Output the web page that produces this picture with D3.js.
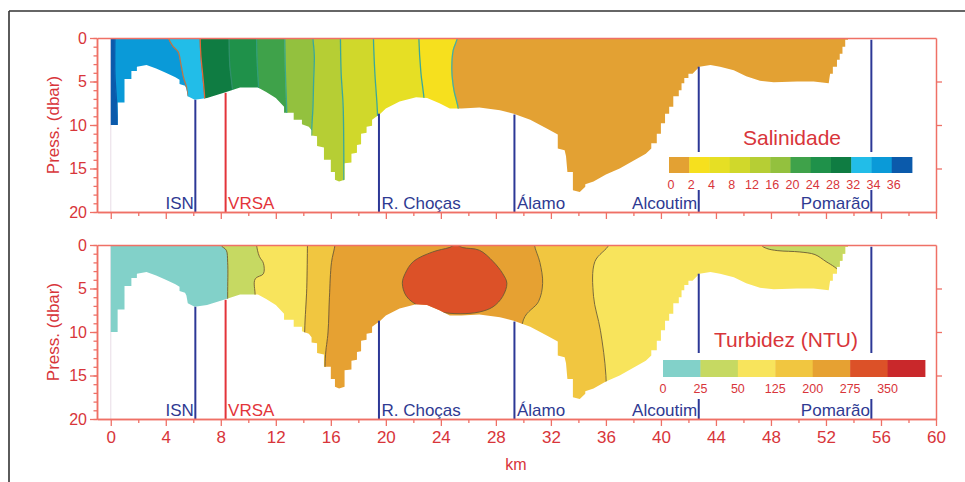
<!DOCTYPE html>
<html><head><meta charset="utf-8">
<script src="https://cdn.jsdelivr.net/npm/d3@7"></script>
<style>body{margin:0;background:#fff;} svg{display:block;font-family:"Liberation Sans",Arial,sans-serif;}</style>
</head><body><svg id="c" width="965" height="482"></svg>
<script>
// ---------- data ----------
const kmMajorTicks = d3.range(0, 61, 4);
const kmMinorTicks = d3.range(2, 60, 4);
const pressMajorTicks = [0, 5, 10, 15, 20];
const pressMinorTicks = d3.range(0, 21, 1);
const pressRightTicks = [5, 10, 15];

// river bed profile (km, dbar)
const bottomKm    = [0,0.5,0.5,1.0,1.0,1.5,1.5,1.9,1.9,2.6,3.3,4.0,4.7,5.0,5.0,5.4,5.5,5.6,6.1,7.0,8.4,9.4,10.7,11.3,12.0,12.6,12.6,13.3,13.3,13.9,13.9,14.4,14.6,14.6,15.0,15.0,15.5,15.5,16.0,16.0,16.3,16.3,16.6,17.0,17.0,17.5,17.5,17.9,17.9,18.2,18.2,18.6,18.6,19.0,19.0,19.6,20.0,21.0,22.2,23.0,23.9,24.65,25.5,26.8,28.3,29.3,30.5,31.7,32.5,32.5,33.0,33.1,33.2,33.6,33.6,34.1,34.5,34.5,35.1,36.0,37.0,37.9,38.9,39.3,39.3,39.7,39.7,40.0,40.0,40.3,40.3,40.6,40.6,40.9,40.9,41.3,41.3,41.5,41.5,41.7,41.7,42.0,42.0,42.3,42.8,43.6,44.3,45.3,46.2,47.2,48.2,49.9,51.1,52.2,52.3,52.5,52.5,52.8,52.8,53.0,53.0,53.2,53.2,53.4,53.4,53.6,53.6];
const bottomDepth = [10.0,10.0,7.4,7.4,4.7,4.7,3.8,3.8,3.3,3.1,3.5,4.0,4.5,4.8,5.3,5.5,5.8,6.7,7.1,6.9,6.2,5.7,5.7,6.2,6.9,7.9,8.6,8.6,9.4,9.4,9.9,10.2,10.6,11.2,11.3,12.4,12.6,14.0,14.0,15.4,15.4,16.3,16.5,16.3,14.4,14.3,13.3,13.2,12.3,12.2,11.0,10.9,10.2,10.1,9.4,8.7,8.1,7.3,6.8,6.9,7.5,8.1,8.1,8.0,8.3,8.7,9.4,10.4,11.1,12.7,12.9,13.6,15.4,15.4,17.5,17.7,17.1,16.8,16.5,15.7,15.0,14.2,13.3,12.7,12.1,12.1,11.0,11.0,9.8,9.8,8.7,8.7,7.9,7.9,6.7,6.7,6.0,6.0,5.2,5.2,4.6,4.6,4.1,4.1,3.3,3.1,3.3,3.7,4.4,4.9,5.1,5.0,5.0,5.2,4.1,4.1,3.3,3.3,2.5,2.5,1.8,1.8,1.0,1.0,0.2,0.2,0];

const stationNames = ["ISN", "VRSA", "R. Choças", "Álamo", "Alcoutim", "Pomarão"];
const stationKm    = [6.15, 8.35, 19.5, 29.35, 42.75, 55.3];
const stationTop   = [7.1, 6.3, 8.7, 8.8, 3.3, 0.2];

// salinity
const salLevels = ["0", "2", "4", "8", "12", "16", "20", "24", "28", "32", "34", "36"];
const salBandOrder = [11, 10, 9, 8, 7, 6, 5, 4, 3, 2, 1, 0]; // left to right
const salBoundaries = [
  [[0.3,0],[0.3,4],[0.45,8],[0.5,10]],
  [[4.2,0],[4.5,0.9],[4.9,1.6],[5.1,3],[5.3,4.6],[5.5,5.6],[5.6,7]],
  [[6.5,0],[6.55,2],[6.7,4.5],[6.85,7.5]],
  [[8.6,0],[8.65,3],[8.9,7]],
  [[10.6,0],[10.65,3],[10.75,6]],
  [[12.65,0],[12.7,4],[12.8,9]],
  [[14.7,0],[14.8,2],[14.75,5],[14.7,8],[14.6,11]],
  [[16.7,0],[16.75,4],[16.9,8],[16.95,16.5]],
  [[19.1,0],[19.2,4],[19.4,9]],
  [[22.4,0],[22.55,4],[22.8,7.5]],
  [[25.2,0],[24.9,1.4],[24.8,3.7],[24.95,6.0],[25.3,8.5]]
];
// turbidity
const turbLevels = ["0", "25", "50", "125", "200", "275", "350"];
const turbBandOrder = [0, 1, 2, 3, 4, 3, 2];
const turbBoundaries = [
  [[8.0,0],[8.4,0.6],[8.5,2],[8.5,6]],
  [[10.6,0],[10.8,1.3],[11.1,2.1],[11.1,3.3],[10.5,3.9],[10.5,6]],
  [[14.3,0],[14.25,5],[14.1,10]],
  [[16.3,0],[16.05,2],[15.9,6],[15.8,10],[15.6,13]],
  [[30.8,0],[31.2,2],[31.4,4.4],[31.1,6.5],[30.0,8.6]],
  [[36.2,0],[35.2,1.9],[35.1,5.9],[35.6,9.8],[36.0,15]]
];
const turbCoreLevel = 5;
const turbCore = [[21.4,3.3],[22.0,1.9],[23.4,0.8],[24.6,0.3],[25.1,0],[25.6,0.3],[26.8,0.6],[27.8,1.9],[28.5,3.3],[28.8,4.4],[28.5,5.9],[27.8,7.1],[26.8,7.7],[25.4,7.9],[23.9,7.7],[22.5,7.1],[21.5,5.9],[21.2,4.4]];
const turbUpperLevel = 1;
const turbUpper = [[47.2,-1.5],[47.3,0],[47.7,0.4],[48.5,0.65],[50.1,0.8],[51.2,1.1],[52.0,1.9],[52.6,2.5],[52.9,2.9],[53.3,3.5],[56,4],[56,-1.5]];

// ---------- styles ----------
const salColors = ["#e3a133","#f6e01e","#e6df24","#d0d82b","#b6ce34","#93c13e","#3fa24a","#1f914a","#0f7c42","#22bde8","#0a9ad8","#0b5aab"];
const salLineColors = ["#0b5aab","#b8764a","#e0683a","#2f8f6a","#2f9e7a","#3aa88a","#3aa89a","#3aa89a","#3aa89a","#3aa89a","#45b0a0"];
const turbColors = ["#82d1c9","#c6d962","#f8e45c","#f1c640","#e6a132","#dc5128","#c9282b"];
const AX = "#ef7066", TX = "#d8353a", BLUE = "#2c3896", RED = "#e3343a";

const svg = d3.select("#c");
const defs = svg.append("defs");
const X = d3.scaleLinear().domain([-1, 60]).range([97, 936]);

// outer frame
svg.append("line").attr("x1", 9).attr("x2", 965).attr("y1", 11).attr("y2", 11).attr("stroke", "#333").attr("stroke-width", 1.6);
svg.append("line").attr("x1", 9).attr("x2", 9).attr("y1", 11).attr("y2", 482).attr("stroke", "#333").attr("stroke-width", 1.6);

function drawPanel(cfg) {
  const y = d3.scaleLinear().domain([0, 20]).range([cfg.y0, cfg.y1]);
  const lin = d3.line().x(d => X(d[0])).y(d => y(d[1]));
  const smooth = d3.line().x(d => X(d[0])).y(d => y(d[1])).curve(d3.curveCatmullRom.alpha(0.5));
  const closed = d3.line().x(d => X(d[0])).y(d => y(d[1])).curve(d3.curveCatmullRomClosed.alpha(0.5));
  const g = svg.append("g");

  // faint line at km 0
  g.append("line").attr("x1", X(0)).attr("x2", X(0)).attr("y1", y(0)).attr("y2", y(20)).attr("stroke", "#ece2ea").attr("stroke-width", 1.2);

  const water = [[0, 0]].concat(bottomKm.map((k, i) => [k, bottomDepth[i]]));
  defs.append("clipPath").attr("id", "clip" + cfg.id).append("path").attr("d", lin(water) + "Z");
  const fg = g.append("g").attr("clip-path", `url(#clip${cfg.id})`);

  const ext = b => [[b[0][0], -2], [b[0][0], -1]].concat(b, [[b[b.length - 1][0], 21], [b[b.length - 1][0], 22]]);
  const bounds = [[[-1, -2], [-1, 22]]].concat(cfg.boundaries.map(ext), [[[61, -2], [61, 22]]]);
  cfg.bandOrder.forEach((ci, i) => {
    const left = bounds[i], right = bounds[i + 1].slice().reverse();
    fg.append("path").attr("d", smooth(left.concat(right)) + "Z").attr("fill", cfg.colors[ci]).attr("stroke", cfg.colors[ci]).attr("stroke-width", 0.6);
  });
  cfg.boundaries.forEach((b, i) => {
    fg.append("path").attr("d", smooth(ext(b))).attr("fill", "none")
      .attr("stroke", cfg.lineColors[i]).attr("stroke-width", cfg.lineWidth);
  });
  (cfg.overlays || []).forEach(o => {
    fg.append("path").attr("d", closed(o.pts)).attr("fill", cfg.colors[o.level])
      .attr("stroke", cfg.lineColors[0]).attr("stroke-width", cfg.lineWidth);
  });

  // legend box (white) + colorbar
  const L = cfg.legend;
  g.append("rect").attr("x", L.x0 - 6).attr("y", L.boxY0).attr("width", L.x1 - L.x0 + 12).attr("height", L.boxY1 - L.boxY0).attr("fill", "#fff");

  // stations
  stationNames.forEach((name, i) => {
    const xx = X(stationKm[i]);
    const col = name === "VRSA" ? RED : BLUE;
    g.append("line").attr("x1", xx).attr("x2", xx).attr("y1", y(stationTop[i])).attr("y2", y(20))
      .attr("stroke", col).attr("stroke-width", 2);
    const anchorEnd = (name === "ISN" || name === "Alcoutim" || name === "Pomarão");
    g.append("text").attr("x", anchorEnd ? xx - 1.5 : xx + 2.5).attr("y", cfg.y1 - 3.5)
      .attr("text-anchor", anchorEnd ? "end" : "start").attr("font-size", 17)
      .attr("fill", name === "VRSA" ? RED : "#2f3a92").text(name);
  });
  // re-cover lines under legend
  g.append("rect").attr("x", L.x0 - 6).attr("y", L.boxY0).attr("width", L.x1 - L.x0 + 12).attr("height", L.boxY1 - L.boxY0).attr("fill", "#fff");

  const n = cfg.levels.length;
  const bx = d3.scaleLinear().domain([0, n]).range([L.x0, L.x1]);
  cfg.levels.forEach((lab, i) => {
    g.append("rect").attr("x", bx(i)).attr("y", L.barY).attr("width", bx(i + 1) - bx(i) + 0.4).attr("height", L.barH)
      .attr("fill", cfg.colors[i]);
    g.append("text").attr("x", bx(i) + L.labDx).attr("y", L.labY).attr("text-anchor", "middle")
      .attr("font-size", 12.5).attr("fill", TX).text(lab);
  });
  g.append("text").attr("x", L.titleX).attr("y", L.titleY).attr("text-anchor", "middle")
    .attr("font-size", 21).attr("fill", TX).text(cfg.title);

  // axes
  const ag = svg.append("g");
  ag.append("g").attr("transform", "translate(97,0)").call(d3.axisLeft(y).tickValues(pressMinorTicks).tickSize(3.5).tickFormat("").tickSizeOuter(0));
  ag.append("g").attr("transform", "translate(97,0)").call(d3.axisLeft(y).tickValues(pressMajorTicks).tickSize(7).tickPadding(3).tickSizeOuter(0));
  ag.append("g").attr("transform", "translate(936,0)").call(d3.axisRight(y).tickValues(pressRightTicks).tickSize(6).tickFormat("").tickSizeOuter(0));
  ag.append("g").attr("transform", `translate(0,${cfg.y1})`).call(d3.axisBottom(X).tickValues(kmMinorTicks).tickSize(4).tickFormat("").tickSizeOuter(0));
  const bot = ag.append("g").attr("transform", `translate(0,${cfg.y1})`).call(d3.axisBottom(X).tickValues(kmMajorTicks).tickSize(7).tickPadding(5).tickSizeOuter(0).tickFormat(cfg.showKm ? d3.format("d") : ""));
  ag.append("g").attr("transform", `translate(0,${cfg.y0})`).call(d3.axisTop(X).tickValues([]).tickSizeOuter(0));
  ag.selectAll("path.domain").attr("stroke", AX).attr("stroke-width", 1.5);
  ag.selectAll("line").attr("stroke", AX).attr("stroke-width", 1.3);
  ag.selectAll("text").attr("fill", TX).attr("font-family", "'Liberation Sans',Arial,sans-serif").attr("font-size", 16);
  bot.selectAll("text").attr("font-size", 17);

  svg.append("text").attr("transform", `translate(59,${(cfg.y0 + cfg.y1) / 2}) rotate(-90)`)
    .attr("text-anchor", "middle").attr("font-size", 17).attr("fill", TX).text("Press. (dbar)");
}

drawPanel({
  id: "sal", y0: 38, y1: 212, boundaries: salBoundaries, bandOrder: salBandOrder,
  colors: salColors, lineColors: salLineColors, lineWidth: 1.3, levels: salLevels, title: "Salinidade", showKm: false,
  legend: { x0: 669, x1: 912, barY: 157, barH: 16, labY: 188.5, labDx: 2, titleX: 792, titleY: 145, boxY0: 152, boxY1: 190 }
});
drawPanel({
  id: "turb", y0: 245, y1: 419, boundaries: turbBoundaries, bandOrder: turbBandOrder,
  colors: turbColors, lineColors: turbBoundaries.map(() => "#6b5a35"), lineWidth: 0.9, levels: turbLevels, title: "Turbidez (NTU)", showKm: true,
  overlays: [{ pts: turbUpper, level: turbUpperLevel }, { pts: turbCore, level: turbCoreLevel }],
  legend: { x0: 663, x1: 925, barY: 360, barH: 17, labY: 393, labDx: 0, titleX: 786, titleY: 347, boxY0: 353, boxY1: 399 }
});

svg.append("text").attr("x", 516).attr("y", 470).attr("text-anchor", "middle").attr("font-size", 16).attr("fill", TX).text("km");
</script></body></html>
